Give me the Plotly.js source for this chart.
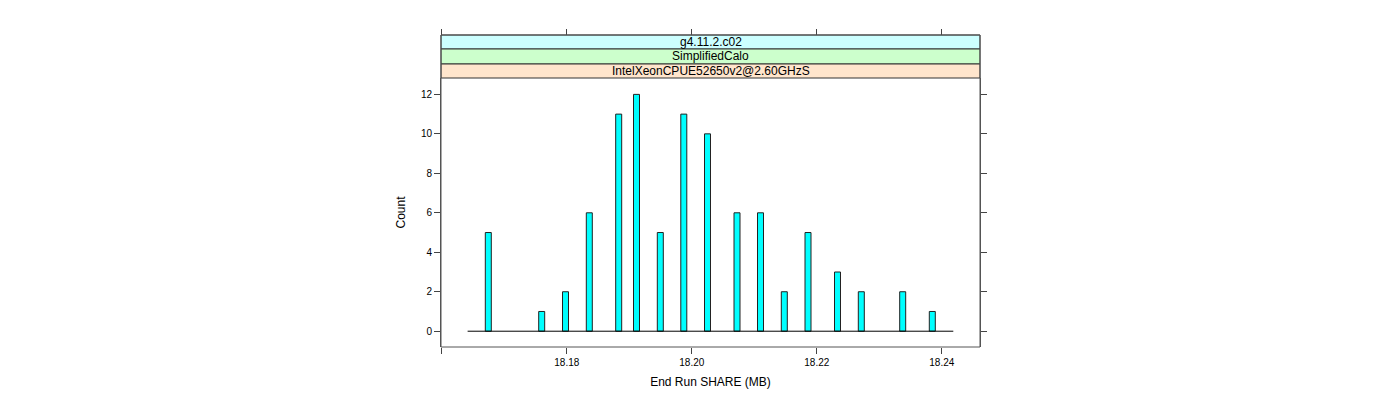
<!DOCTYPE html>
<html>
<head>
<meta charset="utf-8">
<script src="https://cdn.plot.ly/plotly-3.0.1.min.js"></script>
<style>html,body{margin:0;padding:0;background:#fff;}#chart{width:1400px;height:400px;}</style>
</head>
<body>
<div id="chart"></div>
<script>
// Histogram bar positions (End Run SHARE, MB) and counts
const shareMB = [18.16744, 18.17598, 18.17979, 18.1836, 18.1883, 18.19115, 18.19496, 18.19872,
                 18.20251, 18.20723, 18.21099, 18.2148, 18.21859, 18.22331, 18.22712, 18.23374, 18.23848];
const counts  = [5, 1, 2, 6, 11, 12, 5, 11, 10, 6, 6, 2, 5, 3, 2, 2, 1];
// Extent of the histogram baseline (zero-count bins)
const baselineX = [18.16413, 18.24184];
const baselineY = [0, 0];
// Axis ticks
const xTickVals = [18.16, 18.18, 18.20, 18.22, 18.24];
const xTickText = ['', '18.18', '18.20', '18.22', '18.24'];
const yTickVals = [0, 2, 4, 6, 8, 10, 12];
// Strip labels (top to bottom)
const stripLabels = ['g4.11.2.c02', 'SimplifiedCalo', 'IntelXeonCPUE52650v2@2.60GHzS'];
const stripColors = ['#ccffff', '#ccffcc', '#ffe5cc'];

const font = 'Liberation Sans, Arial, Helvetica, sans-serif';
const xRange = [18.15987, 18.24611];
const yDomTop = 269 / 312;
// strip boundaries in paper coordinates (top to bottom)
const stripEdges = [1.0, (347 - 49) / 312, (347 - 64) / 312, yDomTop];

const traces = [
  {
    type: 'scatter', mode: 'lines', x: baselineX, y: baselineY,
    line: {color: '#000', width: 1}, hoverinfo: 'skip', showlegend: false
  },
  {
    type: 'bar', x: shareMB, y: counts, width: 0.00096,
    marker: {color: '#00ffff', line: {color: '#222', width: 1}},
    showlegend: false
  },
  {
    type: 'scatter', mode: 'markers', x: [], y: [], xaxis: 'x2', yaxis: 'y', showlegend: false
  }
];

const shapes = [];
const annotations = [];
for (let i = 0; i < 3; i++) {
  shapes.push({
    type: 'rect', xref: 'paper', yref: 'paper', x0: 0, x1: 1,
    y0: stripEdges[i + 1], y1: stripEdges[i],
    fillcolor: stripColors[i], line: {color: '#333', width: 1}, layer: 'below'
  });
  annotations.push({
    xref: 'paper', yref: 'paper', x: 0.5, y: (stripEdges[i] + stripEdges[i + 1]) / 2,
    text: stripLabels[i], showarrow: false, xanchor: 'center', yanchor: 'middle',
    font: {family: font, size: 12, color: '#000'}
  });
}
shapes.push({
  type: 'rect', xref: 'paper', yref: 'paper', x0: 0, x1: 1, y0: 0, y1: 1,
  fillcolor: 'rgba(0,0,0,0)', line: {color: '#555', width: 1}
});

const layout = {
  width: 1400, height: 400,
  margin: {l: 441, r: 420, t: 35, b: 53, pad: 0},
  paper_bgcolor: '#fff', plot_bgcolor: '#fff',
  font: {family: font, size: 10, color: '#000'},
  bargap: 0,
  xaxis: {
    range: xRange, tickvals: xTickVals, ticktext: xTickText,
    ticks: 'outside', ticklen: 6, tickcolor: '#444', tickwidth: 1,
    showgrid: false, zeroline: false, showline: false,
    tickfont: {family: font, size: 10, color: '#000'},
    title: {text: 'End Run SHARE (MB)', font: {family: font, size: 12, color: '#000'}, standoff: 10}
  },
  xaxis2: {
    overlaying: 'x', side: 'top', anchor: 'free', position: 1,
    range: xRange, tickvals: xTickVals, ticktext: ['', '', '', '', ''],
    ticks: 'outside', ticklen: 6, tickcolor: '#444', tickwidth: 1,
    showgrid: false, zeroline: false, showline: false
  },
  yaxis: {
    domain: [0, yDomTop], range: [-0.8, 12.83], tickvals: yTickVals,
    ticks: 'outside', ticklen: 6, tickcolor: '#444', tickwidth: 1,
    showline: true, linecolor: '#555', mirror: 'ticks',
    showgrid: false, zeroline: false,
    tickfont: {family: font, size: 10, color: '#000'},
    title: {text: 'Count', font: {family: font, size: 12, color: '#000'}, standoff: 12}
  },
  shapes: shapes,
  annotations: annotations
};

Plotly.newPlot('chart', traces, layout, {displayModeBar: false, staticPlot: true});
</script>
</body>
</html>
